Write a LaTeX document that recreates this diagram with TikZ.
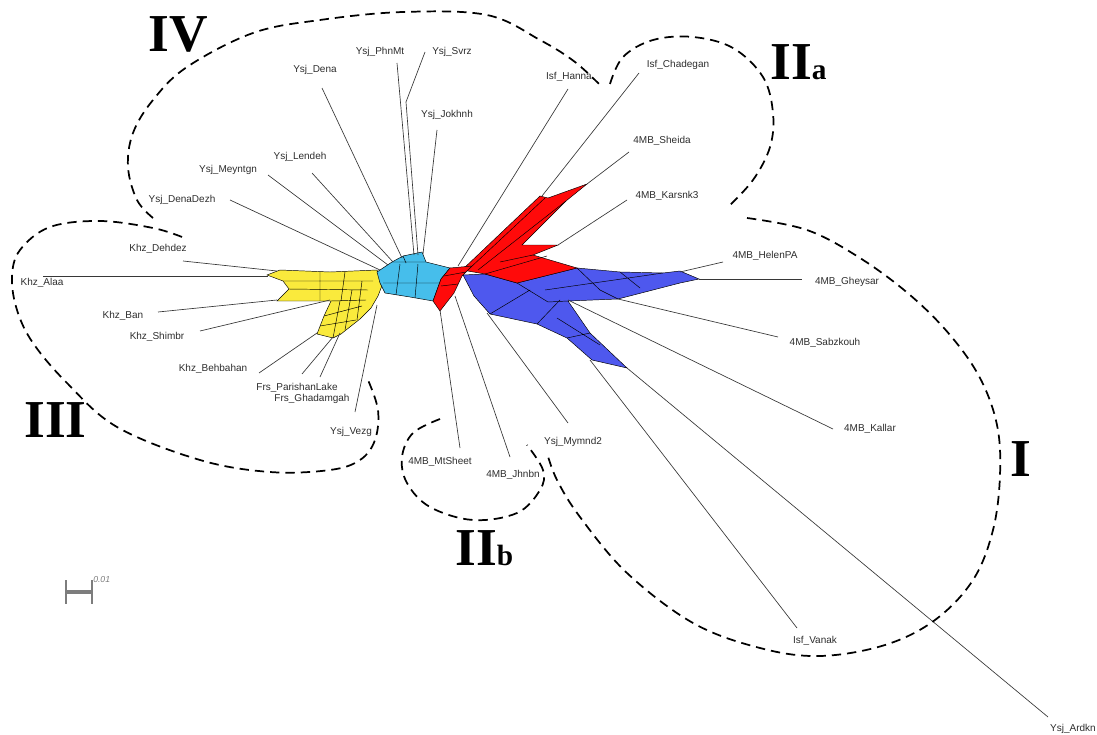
\documentclass[tikz,border=0pt]{standalone}
\usepackage{fontspec}
\setmainfont{Liberation Sans}
\newfontfamily\cladefont{Liberation Serif}
\usetikzlibrary{positioning}
\definecolor{netyellow}{RGB}{250,234,60}
\definecolor{netcyan}{RGB}{70,190,235}
\definecolor{netred}{RGB}{255,10,10}
\definecolor{netblue}{RGB}{78,88,238}
\definecolor{labelgray}{RGB}{45,45,45}
\definecolor{leafgray}{RGB}{55,55,55}
\definecolor{scalegray}{RGB}{125,125,125}
\begin{document}
\begin{tikzpicture}[x=0.75pt,y=-0.75pt,
    taxon/.style={font=\fontsize{7.5}{8}\selectfont, text=labelgray, inner sep=0pt},
    leaf/.style={draw=leafgray, line width=0.5pt},
    web/.style={draw=black, line width=0.35pt},
    group/.style={dash pattern=on 7pt off 4.5pt, line width=1.3pt},
    clade/.style={font=\cladefont\bfseries\fontsize{40}{40}\selectfont, inner sep=0pt}]
  \useasboundingbox (0,0) rectangle (1097,735);

  % splits network
  \filldraw[web, fill=netyellow] (267,275) -- (280,270) -- (330,272) -- (377,270) -- (383,283) -- (378,296)
    -- (371,308) -- (360,319) -- (341,334) -- (333,338) -- (317,334) -- (324,316) -- (331,301)
    -- (277,301) -- (289,289) -- (283,281) -- cycle;
  \draw[web] (283,281) -- (373,281) (289,289) -- (368,290) (320,272) -- (320,301) (345,272) -- (341,301)
    (331,301) -- (366,300) (324,316) -- (362,306) (320,326) -- (356,320) (340,301) -- (333,338)
    (352,290) -- (345,330) (362,281) -- (357,320);
  \filldraw[web, fill=netcyan] (377,272) -- (392,262) -- (403,256) -- (422,252) -- (426,262) -- (450,268)
    -- (441,279) -- (433,301) -- (410,297) -- (385,293) -- (380,283) -- cycle;
  \draw[web] (392,262) -- (426,262) (383,283) -- (439,283) (400,264) -- (396,295) (418,264) -- (415,298)
    (403,256) -- (406,263);
  \filldraw[web, fill=netblue] (463,275) -- (485,274) -- (517,283) -- (577,268) -- (620,272) -- (663,273)
    -- (680,271) -- (699,279) -- (680,283) -- (618,299) -- (568,301) -- (590,333) -- (627,368)
    -- (592,360) -- (567,338) -- (537,324) -- (490,314) -- (474,296) -- cycle;
  \draw[web] (577,268) -- (600,290) -- (618,299) (545,290) -- (663,273) (490,314) -- (530,290)
    (537,324) -- (560,300) (567,338) -- (590,333) (517,283) -- (548,302) -- (568,301)
    (620,272) -- (640,288) (557,318) -- (600,345);
  \filldraw[web, fill=netred] (462,270) -- (540,196) -- (548,198) -- (587,184) -- (566,201) -- (522,245)
    -- (558,245) -- (533,255) -- (577,268) -- (517,283) -- (485,274) -- cycle;
  \draw[web] (470,268) -- (545,198) (478,270) -- (566,201) (500,262) -- (533,255) (485,274) -- (547,256);
  \filldraw[web, fill=netred] (441,279) -- (450,268) -- (472,266) -- (462,276) -- (454,293) -- (440,311)
    -- (433,301) -- cycle;
  \draw[web] (444,276) -- (466,272) (441,286) -- (458,284);

  % tips and free ends of the leaf edges
  \coordinate (Dena-t) at (402,258);      \coordinate (Dena-e) at (322,88);
  \coordinate (PhnMt-t) at (414,255);     \coordinate (PhnMt-e) at (397,63);
  \coordinate (Svrz-t) at (418,255);      \coordinate (Svrz-k) at (406,102);  \coordinate (Svrz-e) at (425,52);
  \coordinate (Jokhnh-t) at (423,254);    \coordinate (Jokhnh-e) at (437,130);
  \coordinate (Lendeh-t) at (393,262);    \coordinate (Lendeh-e) at (312,173);
  \coordinate (Meyntgn-t) at (388,265);   \coordinate (Meyntgn-e) at (268,175);
  \coordinate (DenaDezh-t) at (380,270);  \coordinate (DenaDezh-e) at (230,200);
  \coordinate (Dehdez-t) at (277,271);    \coordinate (Dehdez-e) at (183,261);
  \coordinate (Alaa-t) at (268,276);      \coordinate (Alaa-e) at (43,276);
  \coordinate (Ban-t) at (277,300);       \coordinate (Ban-e) at (158,312);
  \coordinate (Shimbr-t) at (330,300);    \coordinate (Shimbr-e) at (200,331);
  \coordinate (Behbahan-t) at (317,333);  \coordinate (Behbahan-e) at (259,373);
  \coordinate (Parishan-t) at (333,337);  \coordinate (Parishan-e) at (302,374);
  \coordinate (Ghadam-t) at (340,333);    \coordinate (Ghadam-e) at (320,377);
  \coordinate (Vezg-t) at (377,305);      \coordinate (Vezg-e) at (355,412);
  \coordinate (MtSheet-t) at (440,310);   \coordinate (MtSheet-e) at (460,448);
  \coordinate (Jhnbn-t) at (455,296);     \coordinate (Jhnbn-e) at (510,457);
  \coordinate (Mymnd-t) at (487,313);     \coordinate (Mymnd-e) at (568,423);
  \coordinate (Vanak-t) at (590,360);     \coordinate (Vanak-e) at (797,628);
  \coordinate (Ardkn-t) at (627,368);     \coordinate (Ardkn-e) at (1048,717);
  \coordinate (Kallar-t) at (568,300);    \coordinate (Kallar-e) at (833,429);
  \coordinate (Sabz-t) at (618,299);      \coordinate (Sabz-e) at (778,337);
  \coordinate (Gheysar-t) at (699,279);   \coordinate (Gheysar-e) at (802,279);
  \coordinate (Helen-t) at (680,272);     \coordinate (Helen-e) at (723,262);
  \coordinate (Karsnk-t) at (558,245);    \coordinate (Karsnk-e) at (627,200);
  \coordinate (Sheida-t) at (587,184);    \coordinate (Sheida-e) at (629,152);
  \coordinate (Chadegan-t) at (542,196);  \coordinate (Chadegan-e) at (639,73);
  \coordinate (Hanna-t) at (458,266);     \coordinate (Hanna-e) at (568,89);

  \path[leaf] (Dena-t) edge (Dena-e)  (PhnMt-t) edge (PhnMt-e)  (Jokhnh-t) edge (Jokhnh-e)
    (Lendeh-t) edge (Lendeh-e)  (Meyntgn-t) edge (Meyntgn-e)  (DenaDezh-t) edge (DenaDezh-e)
    (Dehdez-t) edge (Dehdez-e)  (Alaa-t) edge (Alaa-e)  (Ban-t) edge (Ban-e)  (Shimbr-t) edge (Shimbr-e)
    (Behbahan-t) edge (Behbahan-e)  (Parishan-t) edge (Parishan-e)  (Ghadam-t) edge (Ghadam-e)
    (Vezg-t) edge (Vezg-e)  (MtSheet-t) edge (MtSheet-e)  (Jhnbn-t) edge (Jhnbn-e)  (Mymnd-t) edge (Mymnd-e)
    (Vanak-t) edge (Vanak-e)  (Ardkn-t) edge (Ardkn-e)  (Kallar-t) edge (Kallar-e)  (Sabz-t) edge (Sabz-e)
    (Gheysar-t) edge (Gheysar-e)  (Helen-t) edge (Helen-e)  (Karsnk-t) edge (Karsnk-e)
    (Sheida-t) edge (Sheida-e)  (Chadegan-t) edge (Chadegan-e)  (Hanna-t) edge (Hanna-e);
  \draw[leaf] (Svrz-t) -- (Svrz-k) -- (Svrz-e);

  % taxa
  \node[taxon] (Dena) at (315,70) {Ysj\_Dena};
  \node[taxon] (PhnMt) at (380,52) {Ysj\_PhnMt};
  \node[taxon] (Svrz) at (452,52) {Ysj\_Svrz};
  \node[taxon] (Jokhnh) at (447,115) {Ysj\_Jokhnh};
  \node[taxon] (Lendeh) at (300,157) {Ysj\_Lendeh};
  \node[taxon] (Meyntgn) at (228,170) {Ysj\_Meyntgn};
  \node[taxon] (DenaDezh) at (182,200) {Ysj\_DenaDezh};
  \node[taxon] (Dehdez) at (158,249) {Khz\_Dehdez};
  \node[taxon] (Alaa) at (42,283) {Khz\_Alaa};
  \node[taxon] (Ban) at (123,316) {Khz\_Ban};
  \node[taxon] (Shimbr) at (157,337) {Khz\_Shimbr};
  \node[taxon] (Behbahan) at (213,369) {Khz\_Behbahan};
  \node[taxon] (Parishan) at (297,388) {Frs\_ParishanLake};
  \node[taxon] (Ghadam) at (312,399) {Frs\_Ghadamgah};
  \node[taxon] (Vezg) at (351,432) {Ysj\_Vezg};
  \node[taxon] (MtSheet) at (440,462) {4MB\_MtSheet};
  \node[taxon] (Jhnbn) at (513,475) {4MB\_Jhnbn};
  \node[taxon] (Mymnd) at (573,442) {Ysj\_Mymnd2};
  \node[taxon] (Vanak) at (815,641) {Isf\_Vanak};
  \node[taxon] (Ardkn) at (1073,729) {Ysj\_Ardkn};
  \node[taxon] (Kallar) at (870,429) {4MB\_Kallar};
  \node[taxon] (Sabz) at (825,343) {4MB\_Sabzkouh};
  \node[taxon] (Gheysar) at (847,282) {4MB\_Gheysar};
  \node[taxon] (Helen) at (765,256) {4MB\_HelenPA};
  \node[taxon] (Karsnk) at (667,196) {4MB\_Karsnk3};
  \node[taxon] (Sheida) at (662,141) {4MB\_Sheida};
  \node[taxon] (Chadegan) at (678,65) {Isf\_Chadegan};
  \node[taxon] (Hanna) at (569,77) {Isf\_Hanna};

  % group outlines
  \draw[group] plot[smooth, tension=0.6] coordinates {(153,218) (137,200) (128,167) (133,133) (153,100)
    (187,67) (253,33) (320,20) (403,12) (487,15) (540,40) (575,62) (603,88)};
  \draw[group] plot[smooth, tension=0.6] coordinates {(610,84) (623,57) (653,40) (693,37) (733,48)
    (763,77) (773,113) (770,147) (753,180) (727,208)};
  \draw[group] plot[smooth, tension=0.6] coordinates {(747,218) (807,230) (860,258) (910,295) (950,335)
    (980,378) (997,425) (1000,475) (993,530) (973,580) (935,620) (885,645) (820,656) (760,648)
    (693,623) (627,573) (580,517) (557,480) (547,453)};
  \draw[group] plot[smooth, tension=0.6] coordinates {(440,419) (413,433) (402,457) (407,483) (430,507)
    (473,520) (517,513) (540,490) (543,470) (527,445)};
  \draw[group] plot[smooth, tension=0.6] coordinates {(182,237) (153,228) (100,221) (50,227) (20,250)
    (12,277) (17,310) (33,343) (67,383) (117,427) (200,460) (270,472) (330,470) (360,460) (375,440)
    (378,410) (368,380)};

  % clade names
  \node[clade, anchor=base west] (cIV) at (148,52) {IV};
  \node[clade, anchor=base west] (cIIa) at (770,80) {II\fontsize{22}{22}\selectfont a};
  \node[clade, anchor=base west] (cIII) at (24,437) {III};
  \node[clade, anchor=base west] (cI) at (1010,476) {I};
  \node[clade, anchor=base west] (cIIb) at (455,565) {II\fontsize{22}{22}\selectfont b};

  % scale bar
  \draw[scalegray, line width=1.4pt] (66,580) -- (66,604) (92,580) -- (92,604);
  \draw[scalegray, line width=2.4pt] (66,592) -- (92,592);
  \node[font=\itshape\fontsize{6.5}{7}\selectfont, text=scalegray, anchor=west, inner sep=0pt] (bar) at (93,580) {0.01};
\end{tikzpicture}
\end{document}
